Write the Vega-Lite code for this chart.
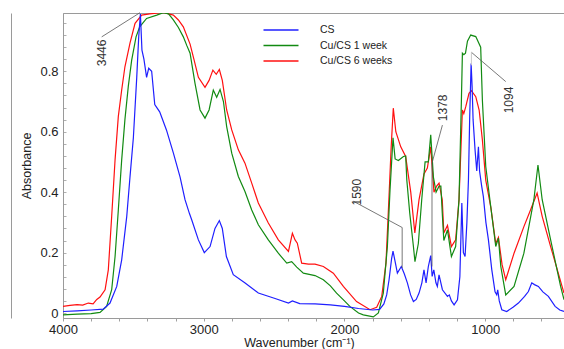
{
  "$schema": "https://vega.github.io/schema/vega-lite/v6.json",
  "width": 501,
  "height": 305,
  "autosize": "none",
  "padding": {"left": 63, "top": 13, "right": 0, "bottom": 31},
  "background": "white",
  "config": {
    "font": "Liberation Sans",
    "view": {"stroke": "#9a9a9a", "strokeWidth": 1}
  },
  "datasets": {
    "spectra": [
      {"s":"CS","w":4000,"a":0.005},{"s":"CS","w":3900,"a":0.007},{"s":"CS","w":3800,"a":0.01},{"s":"CS","w":3714,"a":0.013},{"s":"CS","w":3666,"a":0.033},{"s":"CS","w":3618,"a":0.088},{"s":"CS","w":3583,"a":0.176},{"s":"CS","w":3547,"a":0.32},{"s":"CS","w":3524,"a":0.45},{"s":"CS","w":3500,"a":0.58},{"s":"CS","w":3476,"a":0.78},{"s":"CS","w":3462,"a":0.914},{"s":"CS","w":3450,"a":0.99},{"s":"CS","w":3439,"a":0.87},{"s":"CS","w":3425,"a":0.84},{"s":"CS","w":3406,"a":0.78},{"s":"CS","w":3391,"a":0.81},{"s":"CS","w":3370,"a":0.8},{"s":"CS","w":3348,"a":0.69},{"s":"CS","w":3313,"a":0.666},{"s":"CS","w":3265,"a":0.606},{"s":"CS","w":3216,"a":0.53},{"s":"CS","w":3168,"a":0.45},{"s":"CS","w":3133,"a":0.375},{"s":"CS","w":3102,"a":0.33},{"s":"CS","w":3085,"a":0.308},{"s":"CS","w":3038,"a":0.242},{"s":"CS","w":2996,"a":0.2},{"s":"CS","w":2955,"a":0.22},{"s":"CS","w":2920,"a":0.28},{"s":"CS","w":2889,"a":0.306},{"s":"CS","w":2868,"a":0.28},{"s":"CS","w":2839,"a":0.187},{"s":"CS","w":2790,"a":0.127},{"s":"CS","w":2706,"a":0.099},{"s":"CS","w":2612,"a":0.066},{"s":"CS","w":2493,"a":0.048},{"s":"CS","w":2398,"a":0.033},{"s":"CS","w":2370,"a":0.04},{"s":"CS","w":2318,"a":0.031},{"s":"CS","w":2209,"a":0.03},{"s":"CS","w":2100,"a":0.027},{"s":"CS","w":2000,"a":0.022},{"s":"CS","w":1900,"a":0.015},{"s":"CS","w":1800,"a":0.01},{"s":"CS","w":1750,"a":0.012},{"s":"CS","w":1720,"a":0.03},{"s":"CS","w":1700,"a":0.06},{"s":"CS","w":1683,"a":0.11},{"s":"CS","w":1665,"a":0.18},{"s":"CS","w":1655,"a":0.205},{"s":"CS","w":1640,"a":0.17},{"s":"CS","w":1624,"a":0.132},{"s":"CS","w":1596,"a":0.154},{"s":"CS","w":1575,"a":0.13},{"s":"CS","w":1553,"a":0.1},{"s":"CS","w":1530,"a":0.06},{"s":"CS","w":1510,"a":0.038},{"s":"CS","w":1490,"a":0.045},{"s":"CS","w":1470,"a":0.066},{"s":"CS","w":1450,"a":0.1},{"s":"CS","w":1435,"a":0.143},{"s":"CS","w":1420,"a":0.1},{"s":"CS","w":1404,"a":0.154},{"s":"CS","w":1387,"a":0.19},{"s":"CS","w":1377,"a":0.121},{"s":"CS","w":1365,"a":0.143},{"s":"CS","w":1350,"a":0.1},{"s":"CS","w":1340,"a":0.088},{"s":"CS","w":1328,"a":0.126},{"s":"CS","w":1315,"a":0.1},{"s":"CS","w":1304,"a":0.077},{"s":"CS","w":1268,"a":0.055},{"s":"CS","w":1255,"a":0.06},{"s":"CS","w":1240,"a":0.04},{"s":"CS","w":1221,"a":0.027},{"s":"CS","w":1197,"a":0.044},{"s":"CS","w":1180,"a":0.12},{"s":"CS","w":1166,"a":0.364},{"s":"CS","w":1155,"a":0.2},{"s":"CS","w":1143,"a":0.187},{"s":"CS","w":1130,"a":0.3},{"s":"CS","w":1119,"a":0.44},{"s":"CS","w":1110,"a":0.65},{"s":"CS","w":1100,"a":0.826},{"s":"CS","w":1093,"a":0.75},{"s":"CS","w":1086,"a":0.64},{"s":"CS","w":1072,"a":0.54},{"s":"CS","w":1060,"a":0.47},{"s":"CS","w":1048,"a":0.55},{"s":"CS","w":1040,"a":0.47},{"s":"CS","w":1025,"a":0.42},{"s":"CS","w":1013,"a":0.385},{"s":"CS","w":995,"a":0.3},{"s":"CS","w":977,"a":0.242},{"s":"CS","w":953,"a":0.143},{"s":"CS","w":930,"a":0.07},{"s":"CS","w":918,"a":0.06},{"s":"CS","w":911,"a":0.077},{"s":"CS","w":900,"a":0.04},{"s":"CS","w":882,"a":0.011},{"s":"CS","w":847,"a":0.005},{"s":"CS","w":800,"a":0.02},{"s":"CS","w":764,"a":0.033},{"s":"CS","w":720,"a":0.055},{"s":"CS","w":693,"a":0.071},{"s":"CS","w":669,"a":0.1},{"s":"CS","w":650,"a":0.094},{"s":"CS","w":622,"a":0.088},{"s":"CS","w":590,"a":0.07},{"s":"CS","w":551,"a":0.055},{"s":"CS","w":503,"a":0.022},{"s":"CS","w":470,"a":0.01},{"s":"CS","w":440,"a":0.005},

      {"s":"Cu/CS 1 week","w":4000,"a":-0.006},{"s":"Cu/CS 1 week","w":3900,"a":-0.004},{"s":"Cu/CS 1 week","w":3800,"a":-0.002},{"s":"Cu/CS 1 week","w":3737,"a":0.002},{"s":"Cu/CS 1 week","w":3690,"a":0.022},{"s":"Cu/CS 1 week","w":3654,"a":0.077},{"s":"Cu/CS 1 week","w":3630,"a":0.187},{"s":"Cu/CS 1 week","w":3607,"a":0.34},{"s":"Cu/CS 1 week","w":3583,"a":0.507},{"s":"Cu/CS 1 week","w":3560,"a":0.64},{"s":"Cu/CS 1 week","w":3536,"a":0.75},{"s":"Cu/CS 1 week","w":3512,"a":0.837},{"s":"Cu/CS 1 week","w":3481,"a":0.914},{"s":"Cu/CS 1 week","w":3455,"a":0.947},{"s":"Cu/CS 1 week","w":3406,"a":0.975},{"s":"Cu/CS 1 week","w":3334,"a":0.986},{"s":"Cu/CS 1 week","w":3287,"a":0.994},{"s":"Cu/CS 1 week","w":3250,"a":0.99},{"s":"Cu/CS 1 week","w":3216,"a":0.97},{"s":"Cu/CS 1 week","w":3180,"a":0.945},{"s":"Cu/CS 1 week","w":3145,"a":0.914},{"s":"Cu/CS 1 week","w":3120,"a":0.885},{"s":"Cu/CS 1 week","w":3097,"a":0.86},{"s":"Cu/CS 1 week","w":3062,"a":0.76},{"s":"Cu/CS 1 week","w":3026,"a":0.672},{"s":"Cu/CS 1 week","w":2991,"a":0.645},{"s":"Cu/CS 1 week","w":2962,"a":0.672},{"s":"Cu/CS 1 week","w":2932,"a":0.738},{"s":"Cu/CS 1 week","w":2908,"a":0.714},{"s":"Cu/CS 1 week","w":2884,"a":0.74},{"s":"Cu/CS 1 week","w":2860,"a":0.7},{"s":"Cu/CS 1 week","w":2837,"a":0.617},{"s":"Cu/CS 1 week","w":2801,"a":0.529},{"s":"Cu/CS 1 week","w":2754,"a":0.452},{"s":"Cu/CS 1 week","w":2707,"a":0.402},{"s":"Cu/CS 1 week","w":2659,"a":0.341},{"s":"Cu/CS 1 week","w":2612,"a":0.292},{"s":"Cu/CS 1 week","w":2541,"a":0.242},{"s":"Cu/CS 1 week","w":2470,"a":0.198},{"s":"Cu/CS 1 week","w":2410,"a":0.165},{"s":"Cu/CS 1 week","w":2375,"a":0.17},{"s":"Cu/CS 1 week","w":2339,"a":0.152},{"s":"Cu/CS 1 week","w":2292,"a":0.132},{"s":"Cu/CS 1 week","w":2209,"a":0.124},{"s":"Cu/CS 1 week","w":2150,"a":0.11},{"s":"Cu/CS 1 week","w":2100,"a":0.09},{"s":"Cu/CS 1 week","w":2056,"a":0.066},{"s":"Cu/CS 1 week","w":2000,"a":0.04},{"s":"Cu/CS 1 week","w":1962,"a":0.022},{"s":"Cu/CS 1 week","w":1900,"a":0.0},{"s":"Cu/CS 1 week","w":1866,"a":-0.006},{"s":"Cu/CS 1 week","w":1795,"a":-0.013},{"s":"Cu/CS 1 week","w":1759,"a":0.0},{"s":"Cu/CS 1 week","w":1724,"a":0.066},{"s":"Cu/CS 1 week","w":1695,"a":0.22},{"s":"Cu/CS 1 week","w":1676,"a":0.41},{"s":"Cu/CS 1 week","w":1655,"a":0.58},{"s":"Cu/CS 1 week","w":1640,"a":0.51},{"s":"Cu/CS 1 week","w":1617,"a":0.505},{"s":"Cu/CS 1 week","w":1581,"a":0.518},{"s":"Cu/CS 1 week","w":1565,"a":0.52},{"s":"Cu/CS 1 week","w":1557,"a":0.44},{"s":"Cu/CS 1 week","w":1536,"a":0.33},{"s":"Cu/CS 1 week","w":1510,"a":0.22},{"s":"Cu/CS 1 week","w":1499,"a":0.17},{"s":"Cu/CS 1 week","w":1475,"a":0.23},{"s":"Cu/CS 1 week","w":1451,"a":0.375},{"s":"Cu/CS 1 week","w":1427,"a":0.5},{"s":"Cu/CS 1 week","w":1404,"a":0.5},{"s":"Cu/CS 1 week","w":1387,"a":0.59},{"s":"Cu/CS 1 week","w":1368,"a":0.45},{"s":"Cu/CS 1 week","w":1349,"a":0.4},{"s":"Cu/CS 1 week","w":1328,"a":0.42},{"s":"Cu/CS 1 week","w":1315,"a":0.42},{"s":"Cu/CS 1 week","w":1305,"a":0.33},{"s":"Cu/CS 1 week","w":1294,"a":0.24},{"s":"Cu/CS 1 week","w":1268,"a":0.275},{"s":"Cu/CS 1 week","w":1240,"a":0.187},{"s":"Cu/CS 1 week","w":1210,"a":0.22},{"s":"Cu/CS 1 week","w":1186,"a":0.375},{"s":"Cu/CS 1 week","w":1169,"a":0.705},{"s":"Cu/CS 1 week","w":1162,"a":0.86},{"s":"Cu/CS 1 week","w":1152,"a":0.855},{"s":"Cu/CS 1 week","w":1140,"a":0.86},{"s":"Cu/CS 1 week","w":1126,"a":0.9},{"s":"Cu/CS 1 week","w":1103,"a":0.92},{"s":"Cu/CS 1 week","w":1067,"a":0.915},{"s":"Cu/CS 1 week","w":1032,"a":0.88},{"s":"Cu/CS 1 week","w":1020,"a":0.705},{"s":"Cu/CS 1 week","w":996,"a":0.485},{"s":"Cu/CS 1 week","w":960,"a":0.35},{"s":"Cu/CS 1 week","w":925,"a":0.22},{"s":"Cu/CS 1 week","w":906,"a":0.248},{"s":"Cu/CS 1 week","w":889,"a":0.154},{"s":"Cu/CS 1 week","w":854,"a":0.06},{"s":"Cu/CS 1 week","w":795,"a":0.088},{"s":"Cu/CS 1 week","w":725,"a":0.198},{"s":"Cu/CS 1 week","w":654,"a":0.375},{"s":"Cu/CS 1 week","w":625,"a":0.49},{"s":"Cu/CS 1 week","w":595,"a":0.375},{"s":"Cu/CS 1 week","w":535,"a":0.242},{"s":"Cu/CS 1 week","w":464,"a":0.088},{"s":"Cu/CS 1 week","w":440,"a":0.044},

      {"s":"Cu/CS 6 weeks","w":4000,"a":0.022},{"s":"Cu/CS 6 weeks","w":3950,"a":0.025},{"s":"Cu/CS 6 weeks","w":3900,"a":0.028},{"s":"Cu/CS 6 weeks","w":3860,"a":0.026},{"s":"Cu/CS 6 weeks","w":3820,"a":0.033},{"s":"Cu/CS 6 weeks","w":3786,"a":0.03},{"s":"Cu/CS 6 weeks","w":3760,"a":0.045},{"s":"Cu/CS 6 weeks","w":3737,"a":0.053},{"s":"Cu/CS 6 weeks","w":3701,"a":0.077},{"s":"Cu/CS 6 weeks","w":3678,"a":0.143},{"s":"Cu/CS 6 weeks","w":3654,"a":0.32},{"s":"Cu/CS 6 weeks","w":3630,"a":0.507},{"s":"Cu/CS 6 weeks","w":3607,"a":0.65},{"s":"Cu/CS 6 weeks","w":3583,"a":0.738},{"s":"Cu/CS 6 weeks","w":3560,"a":0.815},{"s":"Cu/CS 6 weeks","w":3524,"a":0.893},{"s":"Cu/CS 6 weeks","w":3488,"a":0.959},{"s":"Cu/CS 6 weeks","w":3441,"a":0.986},{"s":"Cu/CS 6 weeks","w":3384,"a":0.99},{"s":"Cu/CS 6 weeks","w":3287,"a":0.995},{"s":"Cu/CS 6 weeks","w":3216,"a":0.986},{"s":"Cu/CS 6 weeks","w":3180,"a":0.97},{"s":"Cu/CS 6 weeks","w":3145,"a":0.947},{"s":"Cu/CS 6 weeks","w":3097,"a":0.89},{"s":"Cu/CS 6 weeks","w":3070,"a":0.84},{"s":"Cu/CS 6 weeks","w":3038,"a":0.78},{"s":"Cu/CS 6 weeks","w":2991,"a":0.747},{"s":"Cu/CS 6 weeks","w":2962,"a":0.77},{"s":"Cu/CS 6 weeks","w":2935,"a":0.804},{"s":"Cu/CS 6 weeks","w":2911,"a":0.79},{"s":"Cu/CS 6 weeks","w":2889,"a":0.806},{"s":"Cu/CS 6 weeks","w":2868,"a":0.77},{"s":"Cu/CS 6 weeks","w":2837,"a":0.672},{"s":"Cu/CS 6 weeks","w":2801,"a":0.606},{"s":"Cu/CS 6 weeks","w":2754,"a":0.54},{"s":"Cu/CS 6 weeks","w":2707,"a":0.496},{"s":"Cu/CS 6 weeks","w":2659,"a":0.43},{"s":"Cu/CS 6 weeks","w":2612,"a":0.364},{"s":"Cu/CS 6 weeks","w":2541,"a":0.298},{"s":"Cu/CS 6 weeks","w":2470,"a":0.242},{"s":"Cu/CS 6 weeks","w":2398,"a":0.204},{"s":"Cu/CS 6 weeks","w":2370,"a":0.264},{"s":"Cu/CS 6 weeks","w":2351,"a":0.242},{"s":"Cu/CS 6 weeks","w":2335,"a":0.231},{"s":"Cu/CS 6 weeks","w":2304,"a":0.165},{"s":"Cu/CS 6 weeks","w":2256,"a":0.162},{"s":"Cu/CS 6 weeks","w":2209,"a":0.162},{"s":"Cu/CS 6 weeks","w":2150,"a":0.154},{"s":"Cu/CS 6 weeks","w":2079,"a":0.132},{"s":"Cu/CS 6 weeks","w":2008,"a":0.088},{"s":"Cu/CS 6 weeks","w":1914,"a":0.038},{"s":"Cu/CS 6 weeks","w":1818,"a":0.011},{"s":"Cu/CS 6 weeks","w":1771,"a":0.019},{"s":"Cu/CS 6 weeks","w":1735,"a":0.055},{"s":"Cu/CS 6 weeks","w":1705,"a":0.165},{"s":"Cu/CS 6 weeks","w":1683,"a":0.39},{"s":"Cu/CS 6 weeks","w":1668,"a":0.55},{"s":"Cu/CS 6 weeks","w":1653,"a":0.678},{"s":"Cu/CS 6 weeks","w":1635,"a":0.6},{"s":"Cu/CS 6 weeks","w":1600,"a":0.55},{"s":"Cu/CS 6 weeks","w":1565,"a":0.518},{"s":"Cu/CS 6 weeks","w":1529,"a":0.4},{"s":"Cu/CS 6 weeks","w":1500,"a":0.265},{"s":"Cu/CS 6 weeks","w":1470,"a":0.375},{"s":"Cu/CS 6 weeks","w":1435,"a":0.46},{"s":"Cu/CS 6 weeks","w":1411,"a":0.48},{"s":"Cu/CS 6 weeks","w":1387,"a":0.55},{"s":"Cu/CS 6 weeks","w":1364,"a":0.4},{"s":"Cu/CS 6 weeks","w":1345,"a":0.42},{"s":"Cu/CS 6 weeks","w":1328,"a":0.43},{"s":"Cu/CS 6 weeks","w":1305,"a":0.375},{"s":"Cu/CS 6 weeks","w":1294,"a":0.265},{"s":"Cu/CS 6 weeks","w":1268,"a":0.29},{"s":"Cu/CS 6 weeks","w":1240,"a":0.22},{"s":"Cu/CS 6 weeks","w":1210,"a":0.242},{"s":"Cu/CS 6 weeks","w":1186,"a":0.375},{"s":"Cu/CS 6 weeks","w":1162,"a":0.672},{"s":"Cu/CS 6 weeks","w":1152,"a":0.66},{"s":"Cu/CS 6 weeks","w":1138,"a":0.683},{"s":"Cu/CS 6 weeks","w":1115,"a":0.727},{"s":"Cu/CS 6 weeks","w":1098,"a":0.736},{"s":"Cu/CS 6 weeks","w":1067,"a":0.716},{"s":"Cu/CS 6 weeks","w":1043,"a":0.672},{"s":"Cu/CS 6 weeks","w":1020,"a":0.573},{"s":"Cu/CS 6 weeks","w":996,"a":0.44},{"s":"Cu/CS 6 weeks","w":960,"a":0.35},{"s":"Cu/CS 6 weeks","w":925,"a":0.23},{"s":"Cu/CS 6 weeks","w":906,"a":0.25},{"s":"Cu/CS 6 weeks","w":880,"a":0.16},{"s":"Cu/CS 6 weeks","w":854,"a":0.11},{"s":"Cu/CS 6 weeks","w":795,"a":0.198},{"s":"Cu/CS 6 weeks","w":725,"a":0.286},{"s":"Cu/CS 6 weeks","w":678,"a":0.341},{"s":"Cu/CS 6 weeks","w":631,"a":0.397},{"s":"Cu/CS 6 weeks","w":595,"a":0.32},{"s":"Cu/CS 6 weeks","w":535,"a":0.22},{"s":"Cu/CS 6 weeks","w":440,"a":0.066}
    ],
    "labels": [
      {"t":"3446","w":3723,"a":0.861},
      {"t":"1590","w":1910,"a":0.40},
      {"t":"1378","w":1299,"a":0.679},
      {"t":"1094","w":830,"a":0.705}
    ],
    "leaders": [
      {"w":3453,"a":0.994,"w2":3725,"a2":0.914},
      {"w":1937,"a":0.37,"w2":1590,"a2":0.283},
      {"w":1590,"a":0.283,"w2":1590,"a2":0.149},
      {"w":1304,"a":0.622,"w2":1378,"a2":0.496},
      {"w":1378,"a":0.496,"w2":1378,"a2":0.154},
      {"w":854,"a":0.766,"w2":1098,"a2":0.863}
    ],
    "leadersLight": [
      {"w":1098,"a":0.863,"w2":1098,"a2":0.82}
    ]
  },
  "resolve": {"axis": {"y": "independent", "x": "independent"}},
  "layer": [
    {
      "data": {"name": "spectra"},
      "transform": [{"filter": "datum.s === 'Cu/CS 6 weeks'"}],
      "mark": {"type": "line", "strokeWidth": 1.2, "clip": true},
      "encoding": {
        "x": {"field": "w", "type": "quantitative",
              "scale": {"domain": [4000, 440], "nice": false, "zero": false},
              "axis": {"title": "Wavenumber (cm⁻¹)", "orient": "bottom",
                       "values": [4000, 3000, 2000, 1000],
                       "format": "d",
                       "labelOverlap": false, "labelFlush": false, "grid": false,
                       "tickSize": 3, "tickColor": "#a0a0a0", "domainColor": "#9a9a9a",
                       "labelFontSize": 13, "labelColor": "#222", "labelPadding": 2,
                       "titleFontSize": 12.5, "titleFontWeight": "normal", "titleColor": "#222",
                       "titlePadding": 0, "titleX": 236}},
        "y": {"field": "a", "type": "quantitative",
              "scale": {"domain": [-0.0165, 0.993], "nice": false, "zero": false},
              "axis": {"title": "Absorbance",
                       "values": [0,0.04,0.08,0.12,0.16,0.2,0.24,0.28,0.32,0.36,0.4,0.44,0.48,0.52,0.56,0.6,0.64,0.68,0.72,0.76,0.8,0.84,0.88,0.92,0.96],
                       "format": ".1~f",
                       "labelExpr": "abs(datum.value*5 - round(datum.value*5)) < 0.001 ? datum.label : ''",
                       "labelOverlap": false, "labelFlush": false, "grid": false,
                       "tickSize": -3, "tickColor": "#b0b0b0", "domainColor": "#9a9a9a",
                       "labelFontSize": 13, "labelColor": "#222", "labelPadding": 8,
                       "titleFontSize": 12.5, "titleFontWeight": "normal", "titleColor": "#222",
                       "titlePadding": 6}},
        "color": {"field": "s", "type": "nominal",
                  "scale": {"domain": ["CS", "Cu/CS 1 week", "Cu/CS 6 weeks"], "range": ["#1f1fff", "#128a12", "#ff1010"]},
                  "legend": {"title": null, "orient": "none", "legendX": 212, "legendY": 11,
                             "symbolType": "M-3.5,0H3.5", "symbolSize": 100, "symbolStrokeWidth": 1.6,
                             "labelFontSize": 10.5, "labelColor": "#222", "labelOffset": 33,
                             "rowPadding": 3.5, "padding": 0}}
      }
    },
    {
      "data": {"name": "spectra"},
      "transform": [{"filter": "datum.s === 'Cu/CS 1 week'"}],
      "mark": {"type": "line", "strokeWidth": 1.2, "clip": true},
      "encoding": {
        "x": {"field": "w", "type": "quantitative", "axis": null},
        "y": {"field": "a", "type": "quantitative", "axis": null},
        "color": {"field": "s", "type": "nominal"}
      }
    },
    {
      "data": {"name": "spectra"},
      "transform": [{"filter": "datum.s === 'CS'"}],
      "mark": {"type": "line", "strokeWidth": 1.2, "clip": true},
      "encoding": {
        "x": {"field": "w", "type": "quantitative", "axis": null},
        "y": {"field": "a", "type": "quantitative", "axis": null},
        "color": {"field": "s", "type": "nominal"}
      }
    },
    {
      "data": {"name": "leaders"},
      "mark": {"type": "rule", "strokeWidth": 0.8, "color": "#555"},
      "encoding": {
        "x": {"field": "w", "type": "quantitative", "axis": null},
        "x2": {"field": "w2"},
        "y": {"field": "a", "type": "quantitative", "axis": null},
        "y2": {"field": "a2"}
      }
    },
    {
      "data": {"name": "leadersLight"},
      "mark": {"type": "rule", "strokeWidth": 1, "color": "#c8c8c8"},
      "encoding": {
        "x": {"field": "w", "type": "quantitative",
              "axis": {"orient": "bottom", "values": [3800,3600,3400,3200,2800,2600,2400,2200,1800,1600,1400,1200,800,600],
                       "labels": false, "domain": false, "grid": false, "title": null,
                       "tickSize": 3, "tickColor": "#a0a0a0"}},
        "x2": {"field": "w2"},
        "y": {"field": "a", "type": "quantitative", "axis": null},
        "y2": {"field": "a2"}
      }
    },
    {
      "data": {"name": "labels"},
      "mark": {"type": "text", "angle": 270, "fontSize": 12, "color": "#333", "align": "center", "baseline": "middle"},
      "encoding": {
        "x": {"field": "w", "type": "quantitative", "axis": null},
        "y": {"field": "a", "type": "quantitative",
              "axis": {"orient": "left", "offset": 52, "labels": false, "ticks": false, "title": null, "grid": false, "domainColor": "#9a9a9a"}},
        "text": {"field": "t"}
      }
    }
  ]
}
